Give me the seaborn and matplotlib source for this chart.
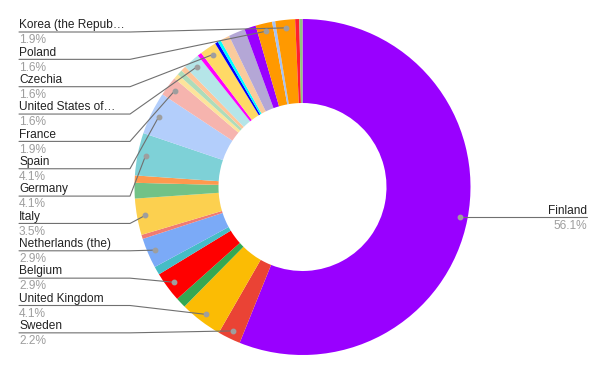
#!/usr/bin/env python3
"""Donut chart of country shares (Google Sheets style), redrawn with matplotlib/seaborn."""

import numpy as np
import matplotlib
matplotlib.use("Agg")
import matplotlib.pyplot as plt
import seaborn as sns

# Slices in drawing order (clockwise from 12 o'clock). Empty name = slice without a label.
countries = [
    "Finland", "Sweden", "United Kingdom", "", "Belgium", "", "Netherlands (the)", "",
    "Italy", "", "", "Germany", "Spain", "France", "", "", "", "United States of\u2026",
    "", "Czechia", "", "", "", "", "", "Poland", "", "Korea (the Repub\u2026", "", "",
]
shares = [
    56.1, 2.2, 4.1, 1.0, 2.9, 0.8, 2.9, 0.4,
    3.5, 1.5, 0.7, 4.1, 4.1, 1.9, 0.5, 0.5, 0.5, 1.6,
    0.4, 1.6, 0.3, 0.3, 0.9, 1.6, 1.1, 1.6, 0.3, 1.9, 0.4, 0.3,
]
colors = [
    "#9900ff", "#ea4335", "#fbbc04", "#34a853", "#ff0000", "#46bdc6", "#7baaf7", "#f07b72",
    "#fcd04f", "#71c287", "#ff994d", "#7ed1d7", "#b3cefb", "#f6b4ae", "#fde49b", "#aedcba",
    "#ffc599", "#b5e5e8", "#ff00ff", "#ffd966", "#0000ff", "#00ffff", "#f9cb9c", "#b4a7d6",
    "#9900ff", "#ff9900", "#a4c2f4", "#ff9900", "#ff1f2f", "#93c47d",
]

W, H = 606, 374

sns.set_theme(style="white")
plt.rcParams["font.family"] = ["Liberation Sans", "DejaVu Sans"]

fig = plt.figure(figsize=(W / 100, H / 100), dpi=100)
ax = fig.add_axes([0, 0, 1, 1])

# geometry in pixel units (y measured upward)
cx, cy = 302.5, H - 187
r_out, r_in = 168, 84

ax.pie(shares, colors=colors, startangle=90, counterclock=False,
       radius=r_out, center=(cx, cy),
       wedgeprops=dict(width=r_out - r_in, linewidth=0))
ax.set_xlim(0, W)
ax.set_ylim(0, H)
ax.set_aspect("equal")
ax.axis("off")

total = sum(shares)
cum = np.cumsum([0] + shares[:-1])
mid_deg = 360 * (cum + np.array(shares) / 2) / total

line_col = "#707070"
dot_col = "#9e9e9e"
name_col = "#222222"
pct_col = "#9e9e9e"
fs = 8.6


def dot_pos(i, r=160):
    t = np.radians(mid_deg[i])
    return cx + r * np.sin(t), cy + r * np.cos(t)


def put_label(x, uy, i, ha):
    # name sits just above the underline, percentage just below it
    ax.text(x, uy + 3.7, countries[i], ha=ha, va="baseline", fontsize=fs, color=name_col)
    ax.text(x, uy - 11.3, f"{shares[i] / total * 100:.1f}%", ha=ha, va="baseline",
            fontsize=fs, color=pct_col)


labelled = [i for i, c in enumerate(countries) if c]
right = [i for i in labelled if mid_deg[i] < 180]
left = sorted([i for i in labelled if mid_deg[i] >= 180], key=lambda i: -mid_deg[i])

# right-hand label(s)
for i in right:
    dx, dy = dot_pos(i)
    ax.plot([dx, 587], [dy, dy], color=line_col, lw=0.8)
    ax.plot(dx, dy, "o", ms=3.2, color=dot_col)
    put_label(587, dy, i, "right")

# left-hand labels stacked from the top
for k, i in enumerate(left):
    uy = H - (32 + k * 27.35)
    dx, dy = dot_pos(i)
    ax.plot([19, 130, dx], [uy, uy, dy], color=line_col, lw=0.8)
    ax.plot(dx, dy, "o", ms=3.2, color=dot_col)
    put_label(19, uy, i, "left")

fig.savefig("out.png", dpi=100)
